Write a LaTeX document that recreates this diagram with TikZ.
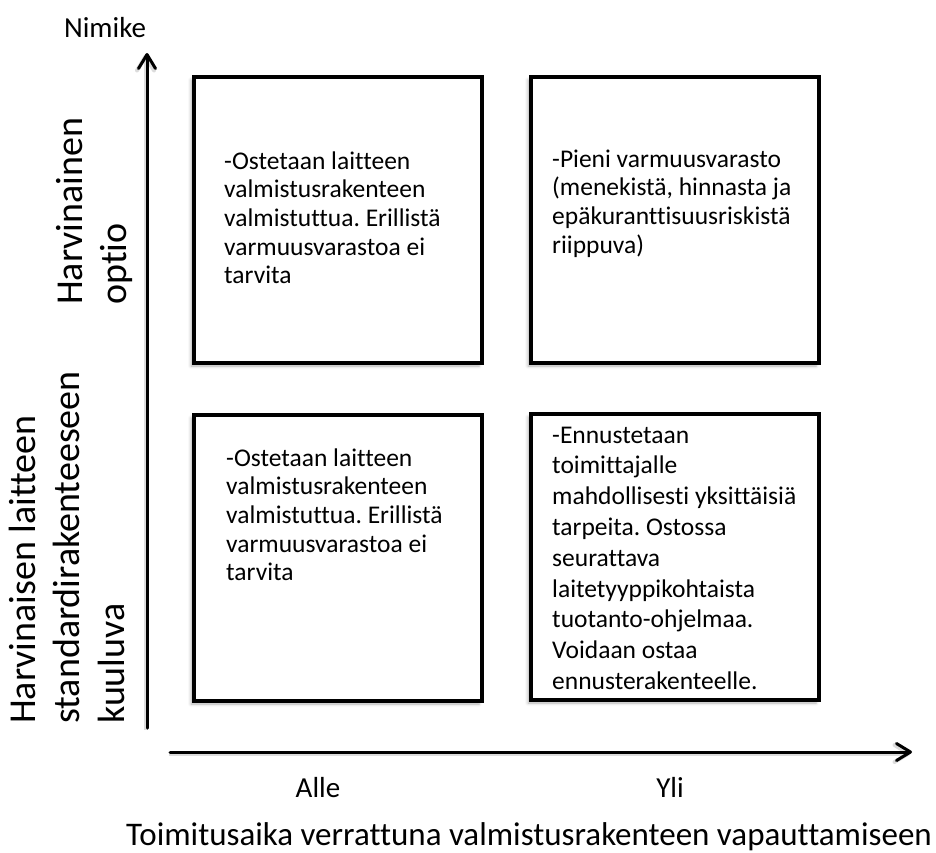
\documentclass[tikz,border=0pt]{standalone}
\usepackage{fontspec}
\setmainfont[Ligatures=NoCommon]{Carlito}
\usetikzlibrary{arrows.meta,shadows.blur}
\frenchspacing

% left-aligned block of lines whose reference point is the first baseline
\newcommand{\celltext}[1]{\parbox[t]{330pt}{\raggedright #1}}

\tikzset{
  quad/.style={draw=black, line width=4pt, fill=white, inner sep=0pt,
    minimum width=288pt, minimum height=286pt,
    blur shadow={shadow xshift=-3pt, shadow yshift=-3pt,
      shadow blur radius=3pt, shadow opacity=30}},
  cell/.style={font=\fontsize{25.5}{28.7}\selectfont, anchor=base west,
    inner sep=0pt, text=black},
  tallcell/.style={cell, font=\fontsize{25.5}{30.8}\selectfont},
  sidelabel/.style={font=\fontsize{38}{44.5}\selectfont, rotate=90,
    anchor=base west, inner sep=0pt},
  ticklabel/.style={font=\fontsize{29}{33}\selectfont, anchor=base, inner sep=0pt},
  axis/.style={line width=3pt, line cap=round,
    -{Straight Barb[length=14pt, width=17pt, line join=round, line cap=round]},
    preaction={draw=black!30, line width=4pt, opacity=0.45,
      transform canvas={shift={(-1.5pt,-1.5pt)}}}}
}

\begin{document}
\begin{tikzpicture}[x=1pt, y=-1pt]
  \useasboundingbox (0,0) rectangle (936,852);

  % axes
  \coordinate (ybot) at (147,728);
  \coordinate (ytop) at (147,53);
  \coordinate (xleft) at (170,752);
  \coordinate (xright) at (912,752);
  \draw[axis] (ybot) -- (ytop);
  \draw[axis] (xleft) -- (xright);

  % the four quadrants
  \node[quad] (tl) at (338,220) {};
  \node[quad] (tr) at (675,220) {};
  \node[quad] (bl) at (338,558) {};
  \node[quad] (br) at (675,557) {};

  \node[cell] (tltext) at (224,169) {\celltext{-Ostetaan laitteen\\valmistusrakenteen\\valmistuttua. Erillistä\\varmuusvarastoa ei\\tarvita}};
  \node[cell] (trtext) at (552,167) {\celltext{-Pieni varmuusvarasto\\(menekistä, hinnasta ja\\epäkuranttisuusriskistä\\riippuva)}};
  \node[cell] (bltext) at (226,466) {\celltext{-Ostetaan laitteen\\valmistusrakenteen\\valmistuttua. Erillistä\\varmuusvarastoa ei\\tarvita}};
  \node[tallcell] (brtext) at (552,443) {\celltext{-Ennustetaan\\toimittajalle\\mahdollisesti yksittäisiä\\tarpeita. Ostossa\\seurattava\\laitetyyppikohtaista\\tuotanto-ohjelmaa.\\Voidaan ostaa\\ennusterakenteelle.}};

  % axis titles and category labels
  \node[ticklabel] (nimike) at (105,37) {Nimike};
  \node[sidelabel] (optio) at (82,305) {\celltext{Harvinainen\\optio}};
  \node[sidelabel] (std) at (35,724) {\celltext{Harvinaisen laitteen\\standardirakenteeseen\\kuuluva}};
  \node[ticklabel] (alle) at (318,797) {Alle};
  \node[ticklabel] (yli) at (670,797) {Yli};
  \node[ticklabel, anchor=base east, font=\fontsize{33}{38}\selectfont] (aika) at (932,845) {Toimitusaika verrattuna valmistusrakenteen vapauttamiseen};
\end{tikzpicture}
\end{document}
